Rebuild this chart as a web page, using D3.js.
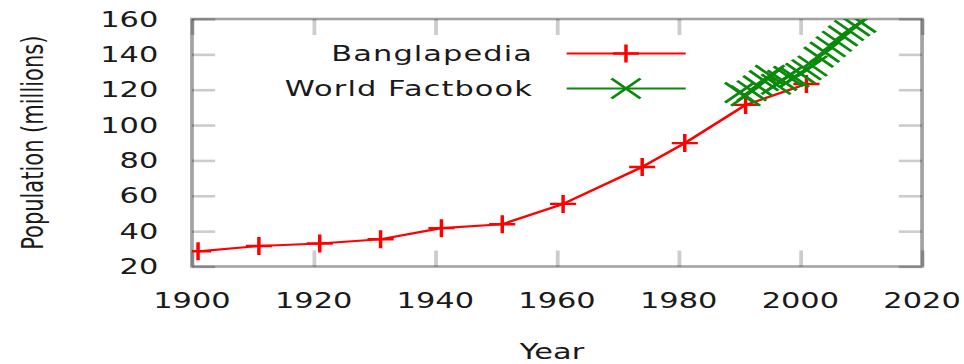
<!DOCTYPE html>
<html>
<head>
<meta charset="utf-8">
<script src="https://cdn.jsdelivr.net/npm/d3@7"></script>
<style>
  html, body { margin: 0; padding: 0; background: #fff; }
  svg { display: block; }
  text { font-family: "DejaVu Sans", sans-serif; fill: #1a1a1a; }
</style>
</head>
<body>
<div id="chart"></div>
<script>
// Population of Bangladesh (millions)
const censusYears = [1901, 1911, 1921, 1931, 1941, 1951, 1961, 1974, 1981, 1991, 2001];
const banglapedia = [28.6, 31.6, 33.0, 35.4, 41.7, 43.9, 55.4, 76.3, 89.8, 111.4, 123.2];

const factbookYears = [1990, 1991, 1992, 1993, 1994, 1995, 1996, 1997, 1998, 1999, 2000,
                       2001, 2002, 2003, 2004, 2005, 2006, 2007, 2008, 2009, 2010];
const factbook = [118.4, 116.6, 119.4, 122.2, 125.1, 128.1, 123.1, 125.3, 127.6, 127.1, 129.2,
                  131.3, 133.4, 138.4, 141.3, 144.3, 147.4, 150.4, 153.5, 156.1, 158.1];

const xTicks = [1900, 1920, 1940, 1960, 1980, 2000, 2020];
const yTicks = [20, 40, 60, 80, 100, 120, 140, 160];
const seriesNames = ["Banglapedia", "World Factbook"];

const W = 964, H = 364;
const stretch = 1.45;            // horizontal stretch of the whole figure
const fontSize = 21;

const x = d3.scaleLinear().domain([1900, 2020]).range([132.4, 635.9]);
const y = d3.scaleLinear().domain([20, 160]).range([266.5, 19]);

const svg = d3.select("#chart").append("svg")
  .attr("width", W).attr("height", H);

const g = svg.append("g").attr("transform", `scale(${stretch},1)`);

g.append("defs").append("clipPath").attr("id", "plotClip")
  .append("rect")
  .attr("x", x.range()[0]).attr("y", y.range()[1])
  .attr("width", x.range()[1] - x.range()[0])
  .attr("height", y.range()[0] - y.range()[1]);

const tickLen = 16;
const frameStyle = s => s.attr("stroke", "#000").attr("stroke-opacity", 0.36).attr("stroke-width", 2.6).attr("fill", "none");
const tickStyle = s => s.attr("stroke", "#000").attr("stroke-opacity", 0.2).attr("stroke-width", 2.6);

// Axes with inward ticks, mirrored on the opposite side
const axisBottom = d3.axisBottom(x).tickValues(xTicks).tickSize(-tickLen).tickFormat("");
const axisTop = d3.axisTop(x).tickValues(xTicks).tickSize(-tickLen).tickFormat("");
const axisLeft = d3.axisLeft(y).tickValues(yTicks).tickSize(-tickLen).tickFormat("");
const axisRight = d3.axisRight(y).tickValues(yTicks).tickSize(-tickLen).tickFormat("");

function drawAxis(axis, transform) {
  const a = g.append("g").attr("transform", transform).call(axis);
  a.select(".domain").remove();
  a.selectAll(".tick line").call(tickStyle);
  return a;
}
drawAxis(axisBottom, `translate(0,${y.range()[0]})`);
drawAxis(axisTop, `translate(0,${y.range()[1]})`);
drawAxis(axisLeft, `translate(${x.range()[0]},0)`);
drawAxis(axisRight, `translate(${x.range()[1]},0)`);

// Frame
g.append("rect")
  .attr("x", x.range()[0]).attr("y", y.range()[1])
  .attr("width", x.range()[1] - x.range()[0])
  .attr("height", y.range()[0] - y.range()[1])
  .call(frameStyle);

// Tick labels
g.append("g").selectAll("text").data(xTicks).join("text")
  .attr("x", d => x(d)).attr("y", 308)
  .attr("text-anchor", "middle").attr("font-size", fontSize)
  .text(d => d);

g.append("g").selectAll("text").data(yTicks).join("text")
  .attr("x", 109.2).attr("y", d => y(d)).attr("dy", "0.36em")
  .attr("text-anchor", "end").attr("font-size", fontSize)
  .text(d => d);

// Axis titles
g.append("text")
  .attr("x", (x.range()[0] + x.range()[1]) / 2 - 3.5).attr("y", 359.5)
  .attr("text-anchor", "middle").attr("font-size", fontSize)
  .text("Year");

g.append("text")
  .attr("transform", `translate(29.7,${(y.range()[0] + y.range()[1]) / 2}) rotate(-90)`)
  .attr("text-anchor", "middle").attr("font-size", fontSize)
  .text("Population (millions)");

// Point markers
const plusPath = r => `M${-r},0H${r}M0,${-r}V${r}`;
const crossPath = r => `M${-r},${-r}L${r},${r}M${-r},${r}L${r},${-r}`;

const red = "#ff0000", green = "#0a8a0a";
const line = d3.line().x(d => x(d[0])).y(d => y(d[1]));

const plot = g.append("g").attr("clip-path", "url(#plotClip)");

function drawSeries(years, values, color, marker, r) {
  const pts = years.map((yr, i) => [yr, values[i]]);
  plot.append("path").datum(pts)
    .attr("d", line).attr("fill", "none")
    .attr("stroke", color).attr("stroke-width", 2.2).attr("stroke-linejoin", "round");
  plot.append("g").selectAll("path").data(pts).join("path")
    .attr("transform", d => `translate(${x(d[0])},${y(d[1])})`)
    .attr("d", marker(r)).attr("fill", "none")
    .attr("stroke", color).attr("stroke-width", 2.4);
}
drawSeries(censusYears, banglapedia, red, plusPath, 9);
drawSeries(factbookYears, factbook, green, crossPath, 10);

// Legend
const legend = [
  { name: seriesNames[0], color: red, marker: plusPath, r: 9, yPos: 53.5 },
  { name: seriesNames[1], color: green, marker: crossPath, r: 10, yPos: 88.5 }
];
const lg = g.append("g");
legend.forEach(item => {
  lg.append("text")
    .attr("x", 367.6).attr("y", item.yPos).attr("dy", "0.36em")
    .attr("text-anchor", "end").attr("font-size", fontSize)
    .attr("letter-spacing", 0.75)
    .text(item.name);
  lg.append("line")
    .attr("x1", 390.8).attr("x2", 472.9)
    .attr("y1", item.yPos).attr("y2", item.yPos)
    .attr("stroke", item.color).attr("stroke-width", 2.2);
  lg.append("path")
    .attr("transform", `translate(431.7,${item.yPos})`)
    .attr("d", item.marker(item.r)).attr("fill", "none")
    .attr("stroke", item.color).attr("stroke-width", 2.4);
});
</script>
</body>
</html>
